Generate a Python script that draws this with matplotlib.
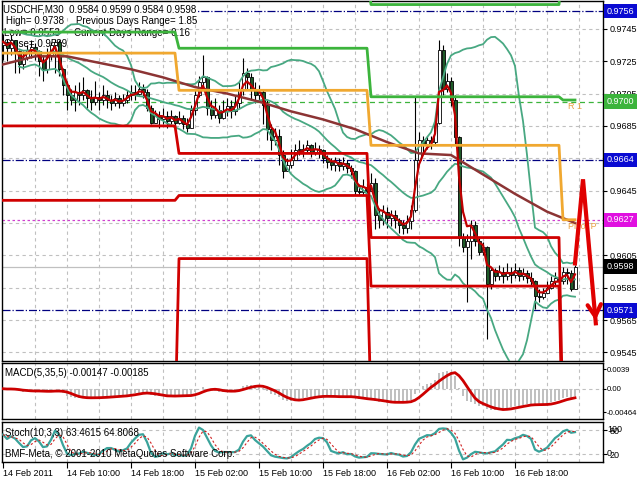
import numpy as np
import pandas as pd
import matplotlib
matplotlib.use("Agg")
import matplotlib.pyplot as plt
import matplotlib.transforms as mtransforms

plt.rcParams['font.family'] = ['Liberation Sans', 'DejaVu Sans']

# USDCHF M30, 14 Feb 2011 02:00 .. 17 Feb 01:30, prices in pips (1e-4)
first_open = 9735
closes = [9737, 9733, 9738, 9731, 9723, 9727, 9732, 9734, 9731, 9725,
          9720, 9729, 9735, 9737, 9720, 9710, 9704, 9701, 9706, 9704,
          9707, 9702, 9700, 9703, 9701, 9704, 9701, 9699, 9702, 9699,
          9701, 9704, 9706, 9705, 9708, 9706, 9696, 9687, 9692, 9689,
          9691, 9688, 9691, 9687, 9690, 9686, 9684, 9695, 9704, 9712,
          9715, 9696, 9692, 9695, 9690, 9694, 9697, 9694, 9699, 9707,
          9718, 9715, 9708, 9704, 9706, 9698, 9683, 9676, 9679, 9667,
          9657, 9661, 9664, 9670, 9671, 9670, 9673, 9669, 9671, 9670,
          9665, 9663, 9661, 9663, 9660, 9662, 9659, 9657, 9645, 9644,
          9647, 9645, 9650, 9630, 9627, 9632, 9628, 9630, 9627, 9624,
          9622, 9626, 9633, 9664, 9676, 9673, 9676, 9675, 9687, 9732,
          9708, 9713, 9701, 9678, 9616, 9610, 9614, 9624, 9614, 9607,
          9610, 9587, 9596, 9592, 9595, 9592, 9595, 9593, 9596, 9592,
          9594, 9591, 9589, 9580, 9579, 9582, 9585, 9589, 9591, 9589,
          9595, 9594, 9584, 9598]
highs = [9742, 9739, 9741, 9738, 9732, 9731, 9735, 9738, 9736, 9732,
         9729, 9733, 9737, 9739, 9738, 9721, 9713, 9708, 9710, 9712,
         9715, 9708, 9707, 9713, 9706, 9710, 9707, 9704, 9706, 9704,
         9705, 9707, 9710, 9710, 9712, 9711, 9708, 9698, 9695, 9694,
         9696, 9694, 9695, 9692, 9694, 9692, 9690, 9698, 9708, 9716,
         9729, 9716, 9701, 9702, 9698, 9701, 9702, 9701, 9704, 9713,
         9727, 9721, 9718, 9712, 9710, 9708, 9701, 9686, 9684, 9683,
         9670, 9665, 9671, 9674, 9676, 9674, 9676, 9674, 9675, 9673,
         9671, 9667, 9665, 9666, 9665, 9666, 9664, 9661, 9658, 9649,
         9652, 9650, 9656, 9653, 9634, 9636, 9635, 9633, 9633, 9628,
         9627, 9630, 9636, 9703, 9681, 9679, 9679, 9679, 9690, 9738,
         9735, 9718, 9715, 9704, 9679, 9619, 9618, 9627, 9626, 9616,
         9613, 9611, 9598, 9597, 9599, 9598, 9600, 9598, 9600, 9598,
         9597, 9596, 9595, 9590, 9584, 9585, 9589, 9592, 9595, 9596,
         9598, 9597, 9596, 9599]
lows = [9726, 9725, 9729, 9718, 9718, 9720, 9726, 9727, 9726, 9716,
        9713, 9718, 9726, 9718, 9716, 9704, 9695, 9698, 9694, 9698,
        9701, 9696, 9695, 9698, 9695, 9698, 9696, 9695, 9697, 9696,
        9697, 9699, 9701, 9701, 9704, 9702, 9694, 9686, 9687, 9684,
        9686, 9684, 9686, 9684, 9686, 9683, 9681, 9684, 9692, 9703,
        9707, 9692, 9689, 9690, 9687, 9689, 9691, 9690, 9692, 9696,
        9704, 9708, 9701, 9699, 9701, 9686, 9676, 9670, 9673, 9661,
        9653, 9657, 9659, 9665, 9667, 9666, 9668, 9666, 9667, 9665,
        9662, 9659, 9658, 9657, 9657, 9658, 9656, 9653, 9642, 9642,
        9642, 9643, 9645, 9621, 9622, 9624, 9622, 9623, 9622, 9619,
        9618, 9619, 9621, 9632, 9664, 9669, 9671, 9671, 9673, 9686,
        9704, 9706, 9697, 9673, 9611, 9607, 9576, 9603, 9611, 9605,
        9605, 9553, 9584, 9589, 9590, 9588, 9590, 9588, 9591, 9589,
        9590, 9588, 9586, 9572, 9576, 9578, 9582, 9584, 9586, 9587,
        9587, 9587, 9583, 9584]

# slow moving average (brown line), read every 8 bars
slow_ma_bars = [0, 8, 16, 24, 32, 40, 48, 56, 64, 72, 80, 88, 96, 104, 112, 120, 128, 136, 143]
slow_ma_vals = [9723, 9728, 9728, 9724, 9720, 9715, 9709, 9705, 9700, 9694,
                9689, 9683, 9675, 9668, 9667, 9655, 9643, 9632, 9625]

# daily pivot levels for 14, 15, 16, 17 Feb (off-screen ones just outside)
day_first_bar = [0, 44, 92, 140]
pivot_r2 = [9775, 9780, 9760, 9790]
pivot_r1 = [9743, 9733, 9703, 9701]
pivot_p = [9730, 9707, 9673, 9627]
pivot_s1 = [9685, 9668, 9616, 9500]
pivot_s2 = [9639, 9642, 9586, 9480]
pivot_s3 = [9500, 9603, 9510, 9450]

# price scale: tick labels left visible, and the coloured price marks
scale_ticks = [0.9745, 0.9725, 0.9705, 0.9685, 0.9645, 0.9605, 0.9585, 0.9565, 0.9545]
grid_prices = [0.9745, 0.9725, 0.9705, 0.9685, 0.9665, 0.9645, 0.9625, 0.9605, 0.9585, 0.9565, 0.9545]
mark_prices = [0.9756, 0.9700, 0.9664, 0.9627, 0.9598, 0.9571]
mark_colors = ['#0a0ad2', '#3cb43c', '#0a0ad2', '#e010e0', '#000000', '#0a0ad2']

# hand drawn forecast arrow
fc_bars = [143, 145, 148.2]
fc_pips = [9600, 9652, 9563]

time_labels = ['14 Feb 2011', '14 Feb 10:00', '14 Feb 18:00', '15 Feb 02:00', '15 Feb 10:00',
               '15 Feb 18:00', '16 Feb 02:00', '16 Feb 10:00', '16 Feb 18:00']

# ---- series
c = np.array(closes) / 1e4
o = np.r_[first_open, closes[:-1]] / 1e4
h = np.maximum(np.array(highs) / 1e4, np.maximum(o, c))
l = np.minimum(np.array(lows) / 1e4, np.minimum(o, c))
n = len(c)
idx = np.arange(n)

cs = pd.Series(c)
fast_ma = cs.ewm(span=3, adjust=False).mean()
bb_mid = cs.rolling(20, min_periods=5).mean()
bb_sd = cs.rolling(20, min_periods=5).std(ddof=0)

ema_fast = cs.ewm(span=5, adjust=False).mean()
ema_slow = cs.ewm(span=35, adjust=False).mean()
macd = ema_fast - ema_slow
macd_sig = macd.rolling(5, min_periods=1).mean()

hs, ls = pd.Series(h), pd.Series(l)
ll = ls.rolling(10, min_periods=1).min()
hh = hs.rolling(10, min_periods=1).max()
stoch_k = (cs - ll).rolling(3, min_periods=1).sum() / (hh - ll).rolling(3, min_periods=1).sum() * 100
stoch_d = stoch_k.rolling(3, min_periods=1).mean()

# ---- layout (pixel boxes)
W, H = 640, 480
fig = plt.figure(figsize=(6.4, 4.8), dpi=100)


def box(top, bottom, left=2, right=603):
    return [left / W, 1 - bottom / H, (right - left) / W, (bottom - top) / H]


def px(x, y):
    return x / W, 1 - y / H


ax = fig.add_axes(box(1, 361))
axm = fig.add_axes(box(363, 419), sharex=ax)
axs = fig.add_axes(box(422, 462), sharex=ax)

grid_kw = dict(color='#c0c0c0', lw=0.8, ls=(0, (3, 3)), zorder=0.5)
for a in (ax, axm, axs):
    for b in range(8, 145, 8):
        a.axvline(b, **grid_kw)
    for s in a.spines.values():
        s.set_color('black')
        s.set_linewidth(1)
    a.yaxis.tick_right()
    a.tick_params(axis='y', length=3, labelsize=6.5, pad=2, direction='out')
    a.tick_params(axis='x', length=0, labelbottom=False)

ax.set_xlim(-0.25, 150)

# ---- main panel
ax.set_ylim(0.95397, 0.97622)
ax.set_yticks(scale_ticks)
ax.set_yticklabels([f'{v:.4f}' for v in scale_ticks])
for v in grid_prices:
    ax.axhline(v, **grid_kw)

ax.axhline(0.9756, color='#000080', lw=0.9, ls='-.', zorder=1)
ax.axhline(0.9664, color='#000080', lw=0.9, ls='-.', zorder=1)
ax.axhline(0.9571, color='#000080', lw=0.9, ls='-.', zorder=1)
ax.axhline(0.9700, color='#3cb43c', lw=0.9, ls=(0, (4, 3)), zorder=1)
ax.axhline(0.9627, color='#d040d0', lw=0.9, ls=(0, (2, 2)), zorder=1)
ax.axhline(0.9598, color='#c0c0c0', lw=0.9, zorder=1)

# info text behind the chart
ax.text(*px(3, 10), 'USDCHF,M30  0.9584 0.9599 0.9584 0.9598', transform=fig.transFigure,
        fontsize=7, va='center', ha='left', zorder=1.5,
        bbox=dict(boxstyle='square,pad=0.1', fc='white', ec='none'))
info = [(6, 21, 'High= 0.9738'), (76, 21, 'Previous Days Range= 1.85'),
        (4, 33, 'Low= 0.9553'), (74, 33, 'Current Days Range= 0.16'),
        (4, 44, 'Close= 0.9589')]
for x, y, s in info:
    ax.text(*px(x, y), s, transform=fig.transFigure, fontsize=7, va='center', ha='left', zorder=1.5)

# bollinger bands
band_col = '#48a882'
ax.plot(idx, bb_mid + 2 * bb_sd, color=band_col, lw=1.3, zorder=5)
ax.plot(idx, bb_mid, color=band_col, lw=1.3, zorder=5)
ax.plot(idx, bb_mid - 2 * bb_sd, color=band_col, lw=1.3, zorder=5)

# candles
up = c >= o
ax.vlines(idx, l, h, color='black', lw=0.8, zorder=3)
body_lo = np.minimum(o, c)
body_h = np.maximum(np.abs(c - o), 0.00002)
ax.bar(idx[up], body_h[up], bottom=body_lo[up], width=0.75, color='white',
       edgecolor='black', lw=0.6, zorder=4)
ax.bar(idx[~up], body_h[~up], bottom=body_lo[~up], width=0.75, color='#1e5a28',
       edgecolor='black', lw=0.6, zorder=4)

# moving averages
ax.plot(slow_ma_bars, np.array(slow_ma_vals) / 1e4, color='#8c3434', lw=1.8, zorder=5)
ax.plot(idx, fast_ma, color='#c00000', lw=1.6, zorder=6)

# pivot steps
counts = np.diff(day_first_bar + [n])
for levels, col in [(pivot_r2, '#3cb43c'), (pivot_r1, '#3cb43c'), (pivot_p, '#f0a830'),
                    (pivot_s1, '#d00000'), (pivot_s2, '#d00000'), (pivot_s3, '#d00000')]:
    ax.plot(idx, np.repeat(levels, counts) / 1e4, color=col, lw=2, zorder=6)

ax.text(141.3, 0.96968, 'R 1', color='#e8a040', fontsize=6.5, va='center', ha='left', zorder=6)
ax.text(141.3, 0.96226, 'Pivot P', color='#e8a040', fontsize=6.5, va='center', ha='left', zorder=6)

# forecast arrow
fc = np.array(fc_pips) / 1e4
ax.plot(fc_bars, fc, color='#e00000', lw=3, zorder=8, solid_joinstyle='miter')
ax.annotate('', xy=(fc_bars[-1], fc[-1]),
            xytext=(fc_bars[-1] - 0.3, fc[-1] + 0.0009),
            arrowprops=dict(arrowstyle='->,head_length=0.7,head_width=0.4', color='#e00000',
                            lw=3, mutation_scale=12), zorder=8)

# price tags on the scale
bt = mtransforms.blended_transform_factory(ax.transAxes, ax.transData)
for p, col in zip(mark_prices, mark_colors):
    ax.text(1.0 + 4 / 601, p, f'{p:.4f}', transform=bt, ha='left', va='center', fontsize=6.5,
            color='white', zorder=10, clip_on=False,
            bbox=dict(boxstyle='square,pad=0.3', fc=col, ec='none'))

# ---- MACD panel
axm.set_ylim(-0.0060, 0.0051)
axm.bar(idx, macd, width=0.5, color='#c0c0c0', zorder=2)
axm.plot(idx, macd_sig, color='#cc0000', lw=2, zorder=3)
axm.axhline(0, **grid_kw)
axm.set_yticks([0.0039, 0.0, -0.00464])
axm.set_yticklabels(['0.0039', '0.00', '-0.00464'])
axm.tick_params(axis='y', labelsize=5.6, pad=0.5, length=2)
axm.text(*px(5, 373), 'MACD(5,35,5) -0.00147 -0.00185', transform=fig.transFigure,
         fontsize=7, va='center', ha='left', zorder=5)

# ---- Stochastic panel
axs.set_ylim(0, 100)
axs.axhline(80, **grid_kw)
axs.axhline(20, **grid_kw)
axs.plot(idx, stoch_k, color='#3aa39b', lw=1.6, zorder=3)
axs.plot(idx, stoch_d, color='#d02020', lw=0.8, ls=(0, (2, 2)), zorder=3)
axs.set_yticks([80, 20])
axs.set_yticklabels(['80', '20'])
st = mtransforms.blended_transform_factory(axs.transAxes, axs.transData)
axs.text(1.0 + 4 / 601, 80, '100', transform=st, fontsize=6.5, va='center', ha='left', clip_on=False)
axs.text(1.0 + 4 / 601, 20, '0', transform=st, fontsize=6.5, va='center', ha='left', clip_on=False)
axs.text(*px(5, 433), 'Stoch(10,3,3) 63.4615 64.8068', transform=fig.transFigure,
         fontsize=7, va='center', ha='left', zorder=5)
axs.text(*px(5, 454), 'BMF-Meta, \u00a9 2001-2010 MetaQuotes Software Corp.', transform=fig.transFigure,
         fontsize=7, va='center', ha='left', zorder=5)

axs.set_xticks(range(0, 129, 16))
axs.set_xticklabels(time_labels, ha='left')
axs.tick_params(axis='x', length=4, labelbottom=True, labelsize=6.5, pad=1, direction='out')

fig.savefig('out.png', dpi=100, facecolor='white')
